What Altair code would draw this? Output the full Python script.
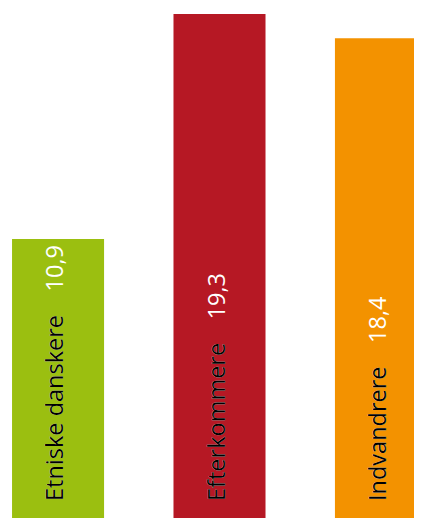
import altair as alt
import pandas as pd

categories = ["Etniske danskere", "Efterkommere", "Indvandrere"]
values = [10.9, 19.3, 18.4]
value_labels = ["10,9", "19,3", "18,4"]
colors = ["#9BBF10", "#B61824", "#F39200"]

df = pd.DataFrame({
    "cat": categories,
    "value": values,
    "vlabel": value_labels,
})
df["full"] = df["cat"] + "\u2003" + df["vlabel"]

x_enc = alt.X("cat:N", sort=categories, axis=None,
              scale=alt.Scale(range=[0, 423], paddingInner=0.43, paddingOuter=0.025))
y_scale = alt.Scale(domain=[0.485, 19.525], nice=False, zero=False)

base = alt.Chart(df)

bars = base.mark_bar(clip=True).encode(
    x=x_enc,
    y=alt.Y("value:Q", axis=None, scale=y_scale),
    y2=alt.datum(0),
    color=alt.Color("cat:N", scale=alt.Scale(domain=categories, range=colors), legend=None),
)

font = "Open Sans"
fs = 23.5

white_txt = base.mark_text(angle=270, align="left", baseline="alphabetic", dx=30, dy=5,
                           font=font, fontSize=fs, color="white").encode(
    x=x_enc,
    y=alt.datum(0, scale=y_scale),
    text="full:N",
)

black_txt = base.mark_text(angle=270, align="left", baseline="alphabetic", dx=30, dy=5,
                           font=font, fontSize=fs, color="black").encode(
    x=x_enc,
    y=alt.datum(0, scale=y_scale),
    text="cat:N",
)

chart = alt.layer(bars, white_txt, black_txt).properties(
    width=406, height=510,
    autosize=alt.AutoSizeParams(type="none"),
    padding=0,
).configure_view(stroke=None)

chart.save("out.html", embed_options={"renderer": "svg", "actions": False})
